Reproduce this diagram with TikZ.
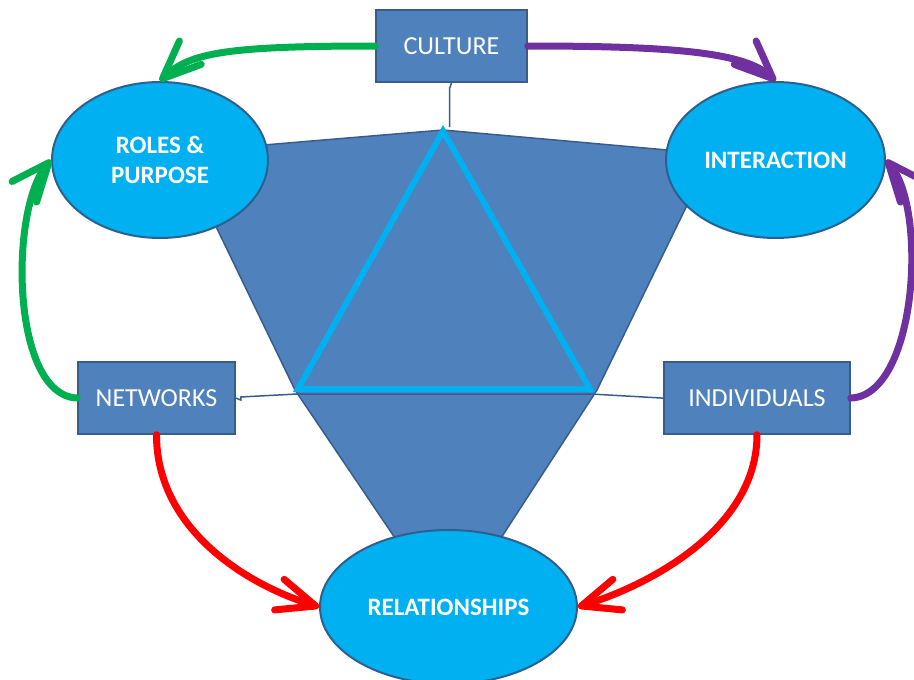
\documentclass[tikz,border=0pt]{standalone}
\usepackage{fontspec}
\setmainfont{Carlito}
\usetikzlibrary{shapes.geometric,arrows.meta}
\definecolor{boxblue}{HTML}{4F81BD}
\definecolor{boxedge}{HTML}{385D8A}
\definecolor{cyanfill}{HTML}{00B0F0}
\definecolor{ellipseedge}{HTML}{2F5F8F}
\definecolor{mygreen}{HTML}{00B050}
\definecolor{mypurple}{HTML}{7030A0}
\definecolor{myred}{HTML}{FF0000}
\begin{document}
\begin{tikzpicture}[x=1pt,y=-1pt,
  boxnode/.style={draw=boxedge,line width=1.5pt,fill=boxblue,text=white,
    font=\fontsize{26}{30}\selectfont,minimum height=72pt,inner sep=0pt},
  ellnode/.style={ellipse,draw=ellipseedge,line width=2pt,fill=cyanfill,text=white,
    font=\bfseries\fontsize{25}{30}\selectfont,inner sep=0pt,align=center},
  flow/.style={line width=7pt,line cap=round,
    -{Straight Barb[length=38pt,width=32pt,round]}},
  link/.style={draw=boxedge,line width=1.5pt}]
\useasboundingbox (0,0) rectangle (914,680);
% central shape
\draw[boxedge,line width=1.5pt,fill=boxblue,line join=round]
  (180,152) -- (443,130) -- (712,154) -- (597,390) -- (477,575)
  -- (420,575) -- (295,390) -- cycle;
% nodes
\node[ellnode,minimum width=216pt,minimum height=156pt] (roles) at (160,160) {ROLES \&\\PURPOSE};
\node[ellnode,minimum width=219pt,minimum height=156pt] (inter) at (775.5,160) {INTERACTION};
\node[ellnode,minimum width=257pt,minimum height=154pt] (rel) at (448.5,607) {RELATIONSHIPS};
\node[boxnode,minimum width=151pt] (culture) at (451.5,46) {CULTURE};
\node[boxnode,minimum width=157pt] (networks) at (156.5,398) {NETWORKS};
\node[boxnode,minimum width=186pt] (indiv) at (757,398) {INDIVIDUALS};
% triangle and links
\coordinate (apex) at (443,131);
\coordinate (tl) at (298,389);
\coordinate (tr) at (590,389);
\coordinate (capex) at (449.5,127);
\coordinate (bl) at (297,394);
\coordinate (br) at (591,394);
\draw[link] (culture.south) -- ++(-2,6) -- (capex);
\draw[link] (networks.east) -- ++(5,2) -- ++(0,-3) -- (bl) -- (br) -- ++(70,4) -- (indiv.west);
\draw[cyanfill,line width=6pt,line join=miter] (apex) -- (tl) -- (tr) -- cycle;
% flows
\draw[flow,mygreen] (culture.west) .. controls +(-150,0) and +(30,-28) .. (roles.north);
\draw[flow,mygreen] (networks.west) .. controls +(-66,-2) and +(-42,50) .. (roles.west);
\draw[flow,mypurple] (culture.east) .. controls +(150,0) and +(-30,-28) .. (inter.north);
\draw[flow,mypurple] (indiv.east) .. controls +(66,-2) and +(42,50) .. (inter.east);
\draw[flow,myred] (networks.south) .. controls +(0,90) and +(-80,-25) .. (rel.west);
\draw[flow,myred] (indiv.south) .. controls +(0,90) and +(80,-25) .. (rel.east);
\end{tikzpicture}
\end{document}
